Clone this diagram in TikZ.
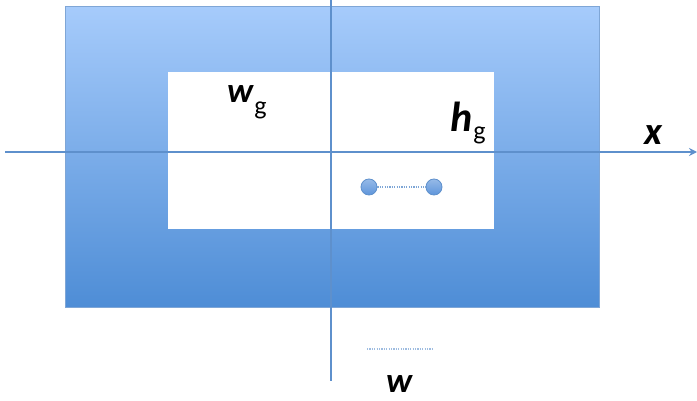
\documentclass[tikz,border=0pt]{standalone}
\usepackage{fontspec}
\setmainfont{Carlito}
\usetikzlibrary{arrows.meta}
\definecolor{axisblue}{HTML}{5E90CC}
\definecolor{topblue}{HTML}{A6CBFB}
\definecolor{botblue}{HTML}{4E8DD6}
\definecolor{rimblue}{HTML}{7FA6D6}
\definecolor{dotblue}{HTML}{5E95DB}
\newcommand{\subg}[1]{\raisebox{-#1}{\fontsize{26}{26}\selectfont\mdseries\upshape g}}
\tikzset{
  lbl/.style={font=\bfseries\itshape, inner sep=0pt},
  axisline/.style={draw=axisblue, line width=2pt},
  dotnode/.style={circle, draw=axisblue, line width=0.8pt, top color=dotblue!65, bottom color=dotblue, minimum size=16pt, inner sep=0pt},
  dotline/.style={draw=axisblue!80, line width=2.5pt, dash pattern=on 1.2pt off 1.2pt}
}
\begin{document}
\begin{tikzpicture}[x=1pt,y=-1pt]
\useasboundingbox (0,0) rectangle (697,401);
\fill[white] (0,0) rectangle (697,401);
% outer gradient rectangle
\shade[top color=topblue, bottom color=botblue] (65,7) rectangle (599,307);
\draw[rimblue, line width=1pt] (65,7) rectangle (599,307);
% inner white rectangle
\fill[white] (168,72) rectangle (494,229);
% axes
\coordinate (xl) at (5,152);
\coordinate (xr) at (697,152);
\coordinate (yt) at (331,0);
\coordinate (yb) at (331,381);
\draw[axisline] (yt) -- (yb);
\draw[axisline, -{Stealth[length=8pt,width=8pt]}] (xl) -- (xr);
% dots
\node[dotnode] (d1) at (369,187) {};
\node[dotnode] (d2) at (434,187) {};
\draw[dotline] (d1) -- (d2);
% w dotted line
\coordinate (w1) at (367,349);
\coordinate (w2) at (434,349);
\draw[dotline, draw=axisblue!60] (w1) -- (w2);
% labels
\node[lbl, anchor=base west, font=\fontsize{35}{35}\selectfont\bfseries\itshape] (wg) at (227,103) {w\hspace{1pt}\subg{12pt}};
\node[lbl, anchor=base west, font=\fontsize{42}{42}\selectfont\bfseries\itshape] (hg) at (450,132) {h\hspace{1pt}\subg{8pt}};
\node[lbl, anchor=base west, font=\fontsize{39}{39}\selectfont\bfseries\itshape] (xlab) at (644,145) {x};
\node[lbl, anchor=base west, font=\fontsize{35}{35}\selectfont\bfseries\itshape] (wlab) at (386,392) {w};
\end{tikzpicture}
\end{document}
